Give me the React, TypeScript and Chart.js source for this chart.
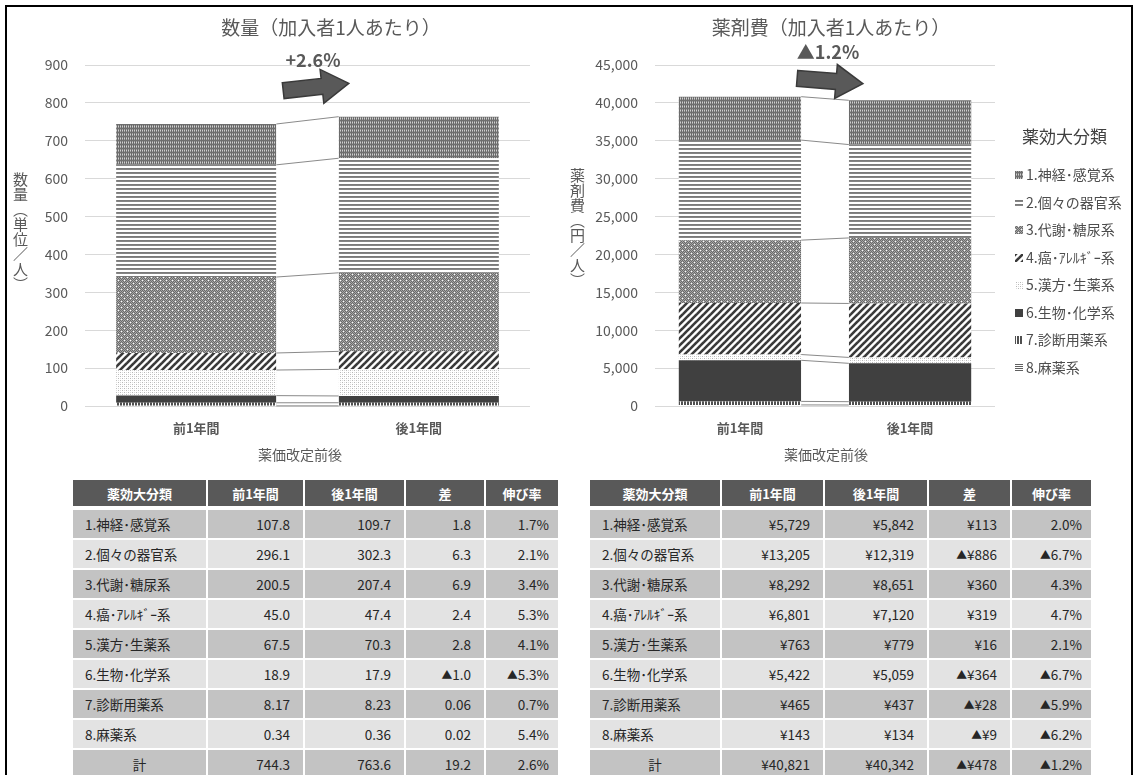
import React, { useEffect, useRef } from "react";
import { Chart, registerables } from "chart.js";
Chart.register(...registerables);

const FONT = '"Noto Sans CJK JP", "Noto Sans", sans-serif';
const TEXT = "#595959";

// ---------- data ----------
const categories = ["前1年間", "後1年間"];
const seriesNames = [
  "1.神経･感覚系",
  "2.個々の器官系",
  "3.代謝･糖尿系",
  "4.癌･ｱﾚﾙｷﾞｰ系",
  "5.漢方･生薬系",
  "6.生物･化学系",
  "7.診断用薬系",
  "8.麻薬系",
];
const qtyBefore = [107.8, 296.1, 200.5, 45.0, 67.5, 18.9, 8.17, 0.34];
const qtyAfter = [109.7, 302.3, 207.4, 47.4, 70.3, 17.9, 8.23, 0.36];
const qtyDiff = ["1.8", "6.3", "6.9", "2.4", "2.8", "▲1.0", "0.06", "0.02"];
const qtyRate = ["1.7%", "2.1%", "3.4%", "5.3%", "4.1%", "▲5.3%", "0.7%", "5.4%"];
const qtyTotal = ["744.3", "763.6", "19.2", "2.6%"];

const costBefore = [5729, 13205, 8292, 6801, 763, 5422, 465, 143];
const costAfter = [5842, 12319, 8651, 7120, 779, 5059, 437, 134];
const costDiff = ["¥113", "▲¥886", "¥360", "¥319", "¥16", "▲¥364", "▲¥28", "▲¥9"];
const costRate = ["2.0%", "▲6.7%", "4.3%", "4.7%", "2.1%", "▲6.7%", "▲5.9%", "▲6.2%"];
const costTotal = ["¥40,821", "¥40,342", "▲¥478", "▲1.2%"];

const qtyAxisMax = 900;
const qtyAxisStep = 100;
const costAxisMax = 45000;
const costAxisStep = 5000;

const tableHeaders = ["薬効大分類", "前1年間", "後1年間", "差", "伸び率"];
const totalLabel = "計";
const legendTitle = "薬効大分類";
const xAxisTitle = "薬価改定前後";

// ---------- patterns ----------
function tile(w: number, h: number, draw: (c: CanvasRenderingContext2D) => void) {
  const t = document.createElement("canvas");
  t.width = w;
  t.height = h;
  const c = t.getContext("2d")!;
  draw(c);
  return t;
}
function px(c: CanvasRenderingContext2D, x: number, y: number, col: string) {
  c.fillStyle = col;
  c.fillRect(x, y, 1, 1);
}
function makePatterns(ctx: CanvasRenderingContext2D): (CanvasPattern | string)[] {
  const p1 = tile(4, 4, (c) => {
    c.fillStyle = "#a4a4a4";
    c.fillRect(0, 0, 4, 4);
    for (let y = 0; y < 4; y++) {
      px(c, 1, y, "#6a6a6a");
      px(c, 3, y, "#6a6a6a");
    }
    for (let x = 0; x < 4; x++) px(c, x, 0, "#6f6f6f");
    px(c, 0, 2, "#d0d0d0");
    px(c, 2, 2, "#d0d0d0");
  });
  const p2 = tile(1, 4, (c) => {
    c.fillStyle = "#ffffff";
    c.fillRect(0, 0, 1, 4);
    px(c, 0, 0, "#7a7a7a");
    px(c, 0, 1, "#858585");
  });
  const p3 = tile(6, 6, (c) => {
    for (let y = 0; y < 6; y++)
      for (let x = 0; x < 6; x++) px(c, x, y, (x + y) % 2 === 0 ? "#6a6a6a" : "#a6a6a6");
    px(c, 1, 1, "#ffffff");
    px(c, 4, 4, "#ffffff");
  });
  const p4 = tile(7, 7, (c) => {
    c.fillStyle = "#ffffff";
    c.fillRect(0, 0, 7, 7);
    c.strokeStyle = "#3a3a3a";
    c.lineWidth = 2.6;
    for (const o of [-7, 0, 7]) {
      c.beginPath();
      c.moveTo(o - 1, 8);
      c.lineTo(o + 8, -1);
      c.stroke();
    }
  });
  const p5 = tile(4, 4, (c) => {
    c.fillStyle = "#ffffff";
    c.fillRect(0, 0, 4, 4);
    px(c, 0, 0, "#b8b8b8");
    px(c, 2, 2, "#b8b8b8");
    px(c, 2, 0, "#dcdcdc");
    px(c, 0, 2, "#dcdcdc");
  });
  const p7 = tile(3, 1, (c) => {
    c.fillStyle = "#ffffff";
    c.fillRect(0, 0, 3, 1);
    px(c, 0, 0, "#505050");
    px(c, 1, 0, "#505050");
  });
  const p8 = tile(1, 2, (c) => {
    c.fillStyle = "#ffffff";
    c.fillRect(0, 0, 1, 2);
    px(c, 0, 0, "#606060");
  });
  const mk = (t: HTMLCanvasElement) => ctx.createPattern(t, "repeat")!;
  return [mk(p1), mk(p2), mk(p3), mk(p4), mk(p5), "#404040", mk(p7), mk(p8)];
}

function drawArrow(ctx: CanvasRenderingContext2D, cx: number, cy: number, ang: number) {
  ctx.save();
  ctx.translate(cx, cy);
  ctx.rotate(ang);
  ctx.beginPath();
  ctx.moveTo(-33, -8);
  ctx.lineTo(6, -8);
  ctx.lineTo(6, -17);
  ctx.lineTo(33, 0);
  ctx.lineTo(6, 17);
  ctx.lineTo(6, 8);
  ctx.lineTo(-33, 8);
  ctx.closePath();
  ctx.fillStyle = "#595959";
  ctx.fill();
  ctx.strokeStyle = "#3a3a3a";
  ctx.lineWidth = 1.5;
  ctx.stroke();
  ctx.restore();
}

type PanelProps = {
  left: number;
  width: number;
  height: number;
  before: number[];
  after: number[];
  max: number;
  step: number;
  title: string;
  titleX: number;
  pct: string;
  pctX: number;
  pctY: number;
  arrowX: number;
  arrowY: number;
  arrowAng: number;
  axisTitleX: number;
  rightPad: number;
  legend: boolean;
};

function BarPanel(p: PanelProps) {
  const ref = useRef<HTMLCanvasElement>(null);
  useEffect(() => {
    const canvas = ref.current!;
    const ctx0 = canvas.getContext("2d")!;
    const patterns = makePatterns(ctx0);
    const datasets: any[] = [];
    for (let i = seriesNames.length - 1; i >= 0; i--) {
      datasets.push({
        label: seriesNames[i],
        data: [p.before[i], p.after[i]],
        backgroundColor: patterns[i],
        borderWidth: 0,
        barPercentage: 0.72,
        categoryPercentage: 1,
      });
    }
    const overlay = {
      id: "overlay",
      afterDatasetsDraw(chart: any) {
        const ctx: CanvasRenderingContext2D = chart.ctx;
        const n = chart.data.datasets.length;
        const e0: any[] = [];
        const e1: any[] = [];
        for (let d = 0; d < n; d++) {
          const m = chart.getDatasetMeta(d);
          e0.push(m.data[0]);
          e1.push(m.data[1]);
        }
        const r1 = e0[0].x + e0[0].width / 2;
        const l2 = e1[0].x - e1[0].width / 2;
        const base = chart.scales.y.getPixelForValue(0);
        ctx.save();
        ctx.fillStyle = "#ffffff";
        ctx.beginPath();
        ctx.moveTo(r1, e0[n - 1].y);
        ctx.lineTo(l2, e1[n - 1].y);
        ctx.lineTo(l2, base);
        ctx.lineTo(r1, base);
        ctx.closePath();
        ctx.fill();
        ctx.strokeStyle = "#8a8a8a";
        ctx.lineWidth = 1;
        for (let d = 0; d < n; d++) {
          ctx.beginPath();
          ctx.moveTo(r1, e0[d].y);
          ctx.lineTo(l2, e1[d].y);
          ctx.stroke();
        }
        ctx.restore();
      },
      afterDraw(chart: any) {
        const ctx: CanvasRenderingContext2D = chart.ctx;
        ctx.save();
        ctx.textBaseline = "middle";
        ctx.textAlign = "center";
        ctx.fillStyle = TEXT;
        ctx.font = `19px ${FONT}`;
        ctx.fillText(p.title, p.titleX, 28);
        ctx.font = `14px ${FONT}`;
        ctx.fillText(xAxisTitle, p.axisTitleX, 455);
        ctx.font = `bold 18px ${FONT}`;
        ctx.fillText(p.pct, p.pctX, p.pctY);
        drawArrow(ctx, p.arrowX, p.arrowY, p.arrowAng);
        if (p.legend) {
          ctx.textAlign = "left";
          ctx.fillStyle = "#404040";
          ctx.font = `17px ${FONT}`;
          ctx.fillText(legendTitle, 452, 137);
          ctx.font = `14px ${FONT}`;
          for (let i = 0; i < seriesNames.length; i++) {
            const y = 175 + i * 27.5;
            ctx.fillStyle = patterns[i] as any;
            ctx.fillRect(445, Math.round(y - 4), 8, 8);
            ctx.fillStyle = "#4d4d4d";
            ctx.fillText(seriesNames[i], 456, y);
          }
        }
        ctx.restore();
      },
    };
    const chart = new Chart(canvas, {
      type: "bar",
      data: { labels: categories, datasets },
      options: {
        responsive: false,
        animation: false,
        layout: { padding: { top: 65, right: p.rightPad, left: 0, bottom: 0 } },
        plugins: {
          legend: { display: false },
          title: { display: false },
          tooltip: { enabled: false },
        },
        scales: {
          x: {
            stacked: true,
            grid: { display: false, drawTicks: false },
            border: { display: false },
            ticks: { font: { family: FONT, size: 13, weight: "bold" }, color: TEXT, padding: 14 },
            afterFit: (s: any) => {
              s.height = 64;
            },
          },
          y: {
            stacked: true,
            min: 0,
            max: p.max,
            ticks: {
              stepSize: p.step,
              padding: 17,
              font: { family: FONT, size: 14 },
              color: TEXT,
              callback: (v: any) => Number(v).toLocaleString("en-US"),
            },
            grid: { color: "#d9d9d9", drawTicks: false, lineWidth: 1 },
            border: { display: false },
            afterFit: (s: any) => {
              s.width = 85;
            },
          },
        },
      } as any,
      plugins: [overlay],
    });
    return () => chart.destroy();
  }, []);
  return (
    <canvas
      ref={ref}
      width={p.width}
      height={p.height}
      style={{ position: "absolute", left: p.left, top: 0, width: p.width, height: p.height }}
    />
  );
}

function VTitle(props: { text: string; cx: number; cy: number }) {
  return (
    <div
      style={{
        position: "absolute",
        left: props.cx - 8,
        top: props.cy,
        transform: "translateY(-50%)",
        writingMode: "vertical-rl",
        fontFamily: FONT,
        fontSize: 15,
        color: TEXT,
        lineHeight: "17px",
        whiteSpace: "nowrap",
      }}
    >
      {props.text}
    </div>
  );
}

function cellText(v: string) {
  if (v.startsWith("▲")) {
    return (
      <>
        <span style={{ fontSize: "0.8em" }}>▲</span>
        {v.slice(1)}
      </>
    );
  }
  return v;
}

function DataTable(props: { cols: number[]; rows: string[][]; total: string[] }) {
  const { cols } = props;
  const cells: React.ReactNode[] = [];
  const cellW = (c: number) => cols[c + 1] - cols[c] - 2;
  const headerTop = 480;
  tableHeaders.forEach((h, c) => {
    cells.push(
      <div
        key={`h${c}`}
        style={{
          position: "absolute",
          left: cols[c],
          top: headerTop,
          width: cellW(c),
          height: 26,
          background: "#595959",
          color: "#ffffff",
          fontWeight: "bold",
          fontSize: 13,
          display: "flex",
          alignItems: "center",
          justifyContent: "center",
        }}
      >
        {h}
      </div>
    );
  });
  const allRows = [...props.rows, [totalLabel, ...props.total]];
  allRows.forEach((r, ri) => {
    const top = 510 + ri * 30;
    const bg = ri % 2 === 0 ? "#c3c3c3" : "#e3e3e3";
    r.forEach((v, c) => {
      const isTotalName = ri === allRows.length - 1 && c === 0;
      cells.push(
        <div
          key={`r${ri}c${c}`}
          style={{
            position: "absolute",
            left: cols[c],
            top,
            width: cellW(c),
            height: 28,
            background: bg,
            color: "#262626",
            fontSize: 13.5,
            display: "flex",
            alignItems: "center",
            justifyContent: c === 0 ? (isTotalName ? "center" : "flex-start") : "flex-end",
            paddingLeft: c === 0 && !isTotalName ? 12 : 0,
            paddingRight: c === 0 ? 0 : c === 4 ? 9 : 13,
            boxSizing: "border-box",
            whiteSpace: "nowrap",
          }}
        >
          {cellText(v)}
        </div>
      );
    });
  });
  return <>{cells}</>;
}

const fmtQty = (v: number) => (v < 10 ? v.toFixed(2) : v.toFixed(1));
const fmtYen = (v: number) => "¥" + v.toLocaleString("en-US");

export default function App() {
  useEffect(() => {
    document.body.style.margin = "0";
  }, []);
  const qtyRows = seriesNames.map((n, i) => [n, fmtQty(qtyBefore[i]), fmtQty(qtyAfter[i]), qtyDiff[i], qtyRate[i]]);
  const costRows = seriesNames.map((n, i) => [n, fmtYen(costBefore[i]), fmtYen(costAfter[i]), costDiff[i], costRate[i]]);
  return (
    <div
      style={{
        position: "relative",
        width: 1137,
        height: 775,
        overflow: "hidden",
        background: "#ffffff",
        fontFamily: FONT,
      }}
    >
      <BarPanel
        left={0}
        width={570}
        height={470}
        before={qtyBefore}
        after={qtyAfter}
        max={qtyAxisMax}
        step={qtyAxisStep}
        title="数量（加入者1人あたり）"
        titleX={331}
        pct="+2.6%"
        pctX={313}
        pctY={60}
        arrowX={316}
        arrowY={87}
        arrowAng={-0.11}
        axisTitleX={300}
        rightPad={40}
        legend={false}
      />
      <BarPanel
        left={570}
        width={567}
        height={470}
        before={costBefore}
        after={costAfter}
        max={costAxisMax}
        step={costAxisStep}
        title="薬剤費（加入者1人あたり）"
        titleX={261}
        pct="▲1.2%"
        pctX={258}
        pctY={52}
        arrowX={260}
        arrowY={81}
        arrowAng={0.08}
        axisTitleX={256}
        rightPad={142}
        legend={true}
      />
      <VTitle text="数量（単位／人）" cx={20} cy={232} />
      <VTitle text="薬剤費（円／人）" cx={577} cy={228} />
      <DataTable cols={[73, 208, 305, 406, 486, 560]} rows={qtyRows} total={qtyTotal} />
      <DataTable cols={[590, 722, 825, 929, 1012, 1093]} rows={costRows} total={costTotal} />
      <div
        style={{
          position: "absolute",
          left: 5,
          top: 5,
          width: 1128,
          height: 800,
          border: "2px solid #000",
          boxSizing: "border-box",
          pointerEvents: "none",
        }}
      />
    </div>
  );
}
